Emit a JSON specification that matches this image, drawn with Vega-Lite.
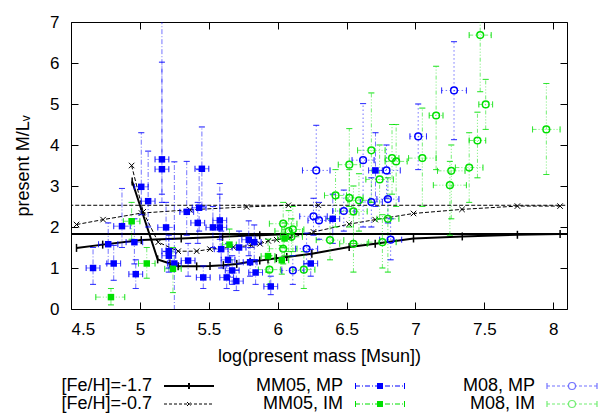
{
 "$schema": "https://vega.github.io/schema/vega-lite/v6.json",
 "width": 496,
 "height": 287,
 "autosize": {"type": "none"},
 "padding": {"left": 71, "top": 22, "right": 31, "bottom": 110},
 "background": "white",
 "config": {
  "view": {"stroke": "black", "strokeWidth": 1},
  "font": "Liberation Sans",
  "axis": {"grid": false, "domain": false, "tickColor": "black", "tickSize": -7, "tickWidth": 1,
   "labelFont": "Liberation Sans", "labelFontSize": 17, "labelColor": "black",
   "titleFont": "Liberation Sans", "titleFontSize": 18, "titleFontWeight": "normal", "titleColor": "black"}
 },
 "datasets": {
  "models": [
   {"series": "[Fe/H]=-1.7", "curve": "A", "x": 4.4, "y": 1.83},
   {"series": "[Fe/H]=-1.7", "curve": "A", "x": 8.2, "y": 1.83},
   {"series": "[Fe/H]=-1.7", "curve": "B", "x": 4.54, "y": 1.49},
   {"series": "[Fe/H]=-1.7", "curve": "B", "x": 4.73, "y": 1.57},
   {"series": "[Fe/H]=-1.7", "curve": "B", "x": 5.01, "y": 1.68},
   {"series": "[Fe/H]=-1.7", "curve": "B", "x": 5.3, "y": 1.72},
   {"series": "[Fe/H]=-1.7", "curve": "B", "x": 5.6, "y": 1.76},
   {"series": "[Fe/H]=-1.7", "curve": "B", "x": 5.87, "y": 1.8},
   {"series": "[Fe/H]=-1.7", "curve": "B", "x": 6.1, "y": 1.83},
   {"series": "[Fe/H]=-1.7", "curve": "C", "x": 4.944, "y": 3.11},
   {"series": "[Fe/H]=-1.7", "curve": "C", "x": 5.129, "y": 1.21},
   {"series": "[Fe/H]=-1.7", "curve": "C", "x": 5.218, "y": 1.11},
   {"series": "[Fe/H]=-1.7", "curve": "C", "x": 5.278, "y": 1.04},
   {"series": "[Fe/H]=-1.7", "curve": "C", "x": 5.412, "y": 1.04},
   {"series": "[Fe/H]=-1.7", "curve": "C", "x": 5.509, "y": 1.05},
   {"series": "[Fe/H]=-1.7", "curve": "C", "x": 5.606, "y": 1.07},
   {"series": "[Fe/H]=-1.7", "curve": "C", "x": 5.703, "y": 1.1},
   {"series": "[Fe/H]=-1.7", "curve": "C", "x": 5.8, "y": 1.15},
   {"series": "[Fe/H]=-1.7", "curve": "C", "x": 5.87, "y": 1.18},
   {"series": "[Fe/H]=-1.7", "curve": "C", "x": 5.93, "y": 1.21},
   {"series": "[Fe/H]=-1.7", "curve": "C", "x": 5.99, "y": 1.24},
   {"series": "[Fe/H]=-1.7", "curve": "C", "x": 6.066, "y": 1.27},
   {"series": "[Fe/H]=-1.7", "curve": "C", "x": 6.248, "y": 1.35},
   {"series": "[Fe/H]=-1.7", "curve": "C", "x": 6.519, "y": 1.51},
   {"series": "[Fe/H]=-1.7", "curve": "C", "x": 6.708, "y": 1.59},
   {"series": "[Fe/H]=-1.7", "curve": "C", "x": 6.986, "y": 1.72},
   {"series": "[Fe/H]=-1.7", "curve": "C", "x": 7.34, "y": 1.77},
   {"series": "[Fe/H]=-1.7", "curve": "C", "x": 7.74, "y": 1.81},
   {"series": "[Fe/H]=-1.7", "curve": "C", "x": 8.05, "y": 1.83},
   {"series": "[Fe/H]=-0.7", "curve": "A", "x": 4.4, "y": 2.53},
   {"series": "[Fe/H]=-0.7", "curve": "A", "x": 8.2, "y": 2.53},
   {"series": "[Fe/H]=-0.7", "curve": "B", "x": 4.54, "y": 2.06},
   {"series": "[Fe/H]=-0.7", "curve": "B", "x": 4.733, "y": 2.18},
   {"series": "[Fe/H]=-0.7", "curve": "B", "x": 5.012, "y": 2.34},
   {"series": "[Fe/H]=-0.7", "curve": "B", "x": 5.363, "y": 2.42},
   {"series": "[Fe/H]=-0.7", "curve": "B", "x": 5.775, "y": 2.49},
   {"series": "[Fe/H]=-0.7", "curve": "B", "x": 6.078, "y": 2.53},
   {"series": "[Fe/H]=-0.7", "curve": "B", "x": 6.296, "y": 2.53},
   {"series": "[Fe/H]=-0.7", "curve": "C", "x": 4.94, "y": 3.5},
   {"series": "[Fe/H]=-0.7", "curve": "C", "x": 5.024, "y": 2.37},
   {"series": "[Fe/H]=-0.7", "curve": "C", "x": 5.133, "y": 1.63},
   {"series": "[Fe/H]=-0.7", "curve": "C", "x": 5.278, "y": 1.41},
   {"series": "[Fe/H]=-0.7", "curve": "C", "x": 5.412, "y": 1.41},
   {"series": "[Fe/H]=-0.7", "curve": "C", "x": 5.509, "y": 1.46},
   {"series": "[Fe/H]=-0.7", "curve": "C", "x": 5.678, "y": 1.51},
   {"series": "[Fe/H]=-0.7", "curve": "C", "x": 5.812, "y": 1.55},
   {"series": "[Fe/H]=-0.7", "curve": "C", "x": 5.872, "y": 1.59},
   {"series": "[Fe/H]=-0.7", "curve": "C", "x": 5.932, "y": 1.66},
   {"series": "[Fe/H]=-0.7", "curve": "C", "x": 5.993, "y": 1.69},
   {"series": "[Fe/H]=-0.7", "curve": "C", "x": 6.09, "y": 1.74},
   {"series": "[Fe/H]=-0.7", "curve": "C", "x": 6.26, "y": 1.88},
   {"series": "[Fe/H]=-0.7", "curve": "C", "x": 6.519, "y": 2.07},
   {"series": "[Fe/H]=-0.7", "curve": "C", "x": 6.708, "y": 2.18},
   {"series": "[Fe/H]=-0.7", "curve": "C", "x": 6.986, "y": 2.33},
   {"series": "[Fe/H]=-0.7", "curve": "C", "x": 7.338, "y": 2.43},
   {"series": "[Fe/H]=-0.7", "curve": "C", "x": 7.74, "y": 2.51},
   {"series": "[Fe/H]=-0.7", "curve": "C", "x": 8.05, "y": 2.51}
  ],
  "obs": [
   {"series": "MM05, MP", "x": 5.16, "y": 3.65, "xlo": 5.11, "xhi": 5.21, "ylo": 2.8, "yhi": 7.5},
   {"series": "MM05, MP", "x": 5.16, "y": 3.41, "xlo": 5.11, "xhi": 5.21, "ylo": 2.6, "yhi": 6.02},
   {"series": "MM05, MP", "x": 5.45, "y": 3.42, "xlo": 5.4, "xhi": 5.5, "ylo": 2.5, "yhi": 4.44},
   {"series": "MM05, MP", "x": 5.01, "y": 2.98, "xlo": 4.96, "xhi": 5.06, "ylo": 2.3, "yhi": 4.3},
   {"series": "MM05, MP", "x": 5.06, "y": 2.63, "xlo": 5.01, "xhi": 5.11, "ylo": 2.0, "yhi": 3.85},
   {"series": "MM05, MP", "x": 5.34, "y": 2.37, "xlo": 5.29, "xhi": 5.39, "ylo": 1.8, "yhi": 3.6},
   {"series": "MM05, MP", "x": 5.43, "y": 2.47, "xlo": 5.38, "xhi": 5.48, "ylo": 1.9, "yhi": 3.4},
   {"series": "MM05, MP", "x": 5.42, "y": 2.1, "xlo": 5.37, "xhi": 5.47, "ylo": 1.6, "yhi": 2.6},
   {"series": "MM05, MP", "x": 4.87, "y": 2.02, "xlo": 4.81, "xhi": 4.93, "ylo": 1.5, "yhi": 2.94},
   {"series": "MM05, MP", "x": 5.19, "y": 1.99, "xlo": 5.13, "xhi": 5.25, "ylo": 1.4, "yhi": 2.6},
   {"series": "MM05, MP", "x": 5.58, "y": 2.16, "xlo": 5.53, "xhi": 5.63, "ylo": 1.7, "yhi": 2.8},
   {"series": "MM05, MP", "x": 5.53, "y": 1.99, "xlo": 5.48, "xhi": 5.58, "ylo": 1.5, "yhi": 2.5},
   {"series": "MM05, MP", "x": 5.58, "y": 1.99, "xlo": 5.53, "xhi": 5.63, "ylo": 1.4, "yhi": 3.06},
   {"series": "MM05, MP", "x": 4.77, "y": 1.58, "xlo": 4.7, "xhi": 4.84, "ylo": 1.1, "yhi": 2.1},
   {"series": "MM05, MP", "x": 4.96, "y": 1.63, "xlo": 4.9, "xhi": 5.02, "ylo": 1.1, "yhi": 2.2},
   {"series": "MM05, MP", "x": 5.21, "y": 1.41, "xlo": 5.16, "xhi": 5.26, "ylo": 1.0, "yhi": 1.8},
   {"series": "MM05, MP", "x": 5.21, "y": 1.3, "xlo": 5.16, "xhi": 5.26, "ylo": 0.9, "yhi": 1.7},
   {"series": "MM05, MP", "x": 5.59, "y": 1.46, "xlo": 5.54, "xhi": 5.64, "ylo": 1.0, "yhi": 1.9},
   {"series": "MM05, MP", "x": 5.72, "y": 1.5, "xlo": 5.67, "xhi": 5.77, "ylo": 1.1, "yhi": 1.9},
   {"series": "MM05, MP", "x": 5.79, "y": 1.69, "xlo": 5.74, "xhi": 5.84, "ylo": 1.3, "yhi": 2.15},
   {"series": "MM05, MP", "x": 5.83, "y": 1.63, "xlo": 5.78, "xhi": 5.88, "ylo": 1.2, "yhi": 2.05},
   {"series": "MM05, MP", "x": 4.66, "y": 1.0, "xlo": 4.61, "xhi": 4.71, "ylo": 0.6, "yhi": 1.5},
   {"series": "MM05, MP", "x": 4.81, "y": 1.11, "xlo": 4.76, "xhi": 4.86, "ylo": 0.7, "yhi": 1.55},
   {"series": "MM05, MP", "x": 4.97, "y": 0.85, "xlo": 4.92, "xhi": 5.02, "ylo": 0.5, "yhi": 1.2},
   {"series": "MM05, MP", "x": 5.25, "y": 1.11, "xlo": 5.2, "xhi": 5.3, "ylo": -1.0, "yhi": 3.59},
   {"series": "MM05, MP", "x": 5.35, "y": 1.18, "xlo": 5.3, "xhi": 5.4, "ylo": 0.8, "yhi": 1.6},
   {"series": "MM05, MP", "x": 5.46, "y": 0.77, "xlo": 5.41, "xhi": 5.51, "ylo": 0.5, "yhi": 1.05},
   {"series": "MM05, MP", "x": 5.64, "y": 1.2, "xlo": 5.59, "xhi": 5.69, "ylo": 0.8, "yhi": 1.6},
   {"series": "MM05, MP", "x": 5.67, "y": 0.94, "xlo": 5.62, "xhi": 5.72, "ylo": 0.6, "yhi": 1.3},
   {"series": "MM05, MP", "x": 5.63, "y": 0.77, "xlo": 5.58, "xhi": 5.68, "ylo": 0.5, "yhi": 1.05},
   {"series": "MM05, MP", "x": 5.7, "y": 0.68, "xlo": 5.65, "xhi": 5.75, "ylo": 0.45, "yhi": 0.95},
   {"series": "MM05, MP", "x": 5.8, "y": 1.14, "xlo": 5.75, "xhi": 5.85, "ylo": 0.8, "yhi": 1.5},
   {"series": "MM05, MP", "x": 5.84, "y": 0.89, "xlo": 5.79, "xhi": 5.89, "ylo": 0.6, "yhi": 1.2},
   {"series": "MM05, MP", "x": 5.95, "y": 0.55, "xlo": 5.9, "xhi": 6.0, "ylo": 0.35, "yhi": 0.8},
   {"series": "MM05, MP", "x": 6.24, "y": 1.11, "xlo": 6.19, "xhi": 6.29, "ylo": 0.8, "yhi": 1.45},
   {"series": "MM05, MP", "x": 6.4, "y": 2.2, "xlo": 6.35, "xhi": 6.45, "ylo": 1.6, "yhi": 2.8},
   {"series": "MM05, MP", "x": 6.71, "y": 3.38, "xlo": 6.66, "xhi": 6.76, "ylo": 2.5, "yhi": 4.3},
   {"series": "MM05, IM", "x": 4.94, "y": 2.14, "xlo": 4.88, "xhi": 5.0, "ylo": 1.7, "yhi": 2.6},
   {"series": "MM05, IM", "x": 5.05, "y": 1.11, "xlo": 4.99, "xhi": 5.11, "ylo": 0.75, "yhi": 1.5},
   {"series": "MM05, IM", "x": 5.24, "y": 0.98, "xlo": 5.18, "xhi": 5.3, "ylo": 0.4, "yhi": 1.5},
   {"series": "MM05, IM", "x": 4.79, "y": 0.29, "xlo": 4.68, "xhi": 4.89, "ylo": 0.1, "yhi": 0.5},
   {"series": "MM05, IM", "x": 5.65, "y": 1.57, "xlo": 5.6, "xhi": 5.7, "ylo": 1.2, "yhi": 1.95},
   {"series": "MM05, IM", "x": 5.93, "y": 1.29, "xlo": 5.88, "xhi": 5.98, "ylo": 0.9, "yhi": 1.7},
   {"series": "MM05, IM", "x": 6.03, "y": 1.19, "xlo": 5.98, "xhi": 6.08, "ylo": 0.85, "yhi": 1.55},
   {"series": "MM05, IM", "x": 6.05, "y": 1.72, "xlo": 6.0, "xhi": 6.1, "ylo": 1.3, "yhi": 2.1},
   {"series": "M08, MP", "x": 6.28, "y": 3.38, "xlo": 6.18, "xhi": 6.38, "ylo": 2.2, "yhi": 4.48},
   {"series": "M08, MP", "x": 6.62, "y": 3.63, "xlo": 6.54, "xhi": 6.7, "ylo": 2.0, "yhi": 5.01},
   {"series": "M08, MP", "x": 6.79, "y": 3.38, "xlo": 6.69, "xhi": 6.89, "ylo": 2.7, "yhi": 4.0},
   {"series": "M08, MP", "x": 6.68, "y": 2.61, "xlo": 6.6, "xhi": 6.76, "ylo": 2.0, "yhi": 3.2},
   {"series": "M08, MP", "x": 6.8, "y": 2.68, "xlo": 6.72, "xhi": 6.88, "ylo": 2.1, "yhi": 3.3},
   {"series": "M08, MP", "x": 6.48, "y": 2.39, "xlo": 6.4, "xhi": 6.56, "ylo": 1.9, "yhi": 2.9},
   {"series": "M08, MP", "x": 6.26, "y": 2.26, "xlo": 6.16, "xhi": 6.36, "ylo": 1.8, "yhi": 2.7},
   {"series": "M08, MP", "x": 6.3, "y": 2.16, "xlo": 6.22, "xhi": 6.38, "ylo": 1.7, "yhi": 2.6},
   {"series": "M08, MP", "x": 6.21, "y": 1.47, "xlo": 6.13, "xhi": 6.29, "ylo": 1.1, "yhi": 1.85},
   {"series": "M08, MP", "x": 6.11, "y": 0.94, "xlo": 6.03, "xhi": 6.19, "ylo": 0.6, "yhi": 1.3},
   {"series": "M08, MP", "x": 6.82, "y": 1.69, "xlo": 6.74, "xhi": 6.9, "ylo": 1.2, "yhi": 2.2},
   {"series": "M08, MP", "x": 7.02, "y": 4.21, "xlo": 6.96, "xhi": 7.08, "ylo": 3.4, "yhi": 5.0},
   {"series": "M08, MP", "x": 7.28, "y": 5.33, "xlo": 7.19, "xhi": 7.37, "ylo": 4.13, "yhi": 6.52},
   {"series": "M08, IM", "x": 7.15, "y": 4.72, "xlo": 7.1, "xhi": 7.2, "ylo": 3.4, "yhi": 5.92},
   {"series": "M08, IM", "x": 6.68, "y": 3.87, "xlo": 6.58, "xhi": 6.78, "ylo": 2.6, "yhi": 5.27},
   {"series": "M08, IM", "x": 7.05, "y": 3.68, "xlo": 6.95, "xhi": 7.15, "ylo": 2.5, "yhi": 4.9},
   {"series": "M08, IM", "x": 6.83, "y": 3.68, "xlo": 6.78, "xhi": 6.88, "ylo": 2.8, "yhi": 4.5},
   {"series": "M08, IM", "x": 7.47, "y": 6.68, "xlo": 7.39, "xhi": 7.55, "ylo": 5.3, "yhi": 7.1},
   {"series": "M08, IM", "x": 7.51, "y": 4.99, "xlo": 7.46, "xhi": 7.56, "ylo": 4.38, "yhi": 5.6},
   {"series": "M08, IM", "x": 7.95, "y": 4.38, "xlo": 7.85, "xhi": 8.05, "ylo": 3.28, "yhi": 5.5},
   {"series": "M08, IM", "x": 7.45, "y": 4.11, "xlo": 7.39, "xhi": 7.51, "ylo": 3.2, "yhi": 4.8},
   {"series": "M08, IM", "x": 7.26, "y": 3.37, "xlo": 7.16, "xhi": 7.36, "ylo": 2.2, "yhi": 4.0},
   {"series": "M08, IM", "x": 7.39, "y": 3.45, "xlo": 7.29, "xhi": 7.49, "ylo": 2.6, "yhi": 4.3},
   {"series": "M08, IM", "x": 7.25, "y": 3.02, "xlo": 7.13, "xhi": 7.37, "ylo": 1.8, "yhi": 3.6},
   {"series": "M08, IM", "x": 6.52, "y": 3.52, "xlo": 6.44, "xhi": 6.6, "ylo": 2.5, "yhi": 4.4},
   {"series": "M08, IM", "x": 6.86, "y": 3.6, "xlo": 6.78, "xhi": 6.94, "ylo": 2.5, "yhi": 4.5},
   {"series": "M08, IM", "x": 6.74, "y": 3.16, "xlo": 6.64, "xhi": 6.84, "ylo": 2.2, "yhi": 4.0},
   {"series": "M08, IM", "x": 6.42, "y": 2.77, "xlo": 6.34, "xhi": 6.5, "ylo": 2.0, "yhi": 3.4},
   {"series": "M08, IM", "x": 6.52, "y": 2.71, "xlo": 6.42, "xhi": 6.62, "ylo": 2.0, "yhi": 3.4},
   {"series": "M08, IM", "x": 6.59, "y": 2.65, "xlo": 6.51, "xhi": 6.67, "ylo": 1.9, "yhi": 3.3},
   {"series": "M08, IM", "x": 6.55, "y": 2.38, "xlo": 6.45, "xhi": 6.65, "ylo": 1.6, "yhi": 3.0},
   {"series": "M08, IM", "x": 6.8, "y": 2.2, "xlo": 6.72, "xhi": 6.88, "ylo": 0.9, "yhi": 3.2},
   {"series": "M08, IM", "x": 6.04, "y": 2.08, "xlo": 5.94, "xhi": 6.14, "ylo": 1.5, "yhi": 2.6},
   {"series": "M08, IM", "x": 6.08, "y": 1.9, "xlo": 5.98, "xhi": 6.18, "ylo": 1.4, "yhi": 2.4},
   {"series": "M08, IM", "x": 6.11, "y": 1.94, "xlo": 6.03, "xhi": 6.19, "ylo": 1.4, "yhi": 2.5},
   {"series": "M08, IM", "x": 6.04, "y": 1.47, "xlo": 5.94, "xhi": 6.14, "ylo": 1.1, "yhi": 1.85},
   {"series": "M08, IM", "x": 6.38, "y": 1.68, "xlo": 6.28, "xhi": 6.48, "ylo": 1.2, "yhi": 2.2},
   {"series": "M08, IM", "x": 6.55, "y": 1.59, "xlo": 6.45, "xhi": 6.65, "ylo": 0.9, "yhi": 2.3},
   {"series": "M08, IM", "x": 6.76, "y": 1.63, "xlo": 6.66, "xhi": 6.86, "ylo": 1.0, "yhi": 2.3},
   {"series": "M08, IM", "x": 5.94, "y": 0.96, "xlo": 5.86, "xhi": 6.02, "ylo": 0.6, "yhi": 1.3},
   {"series": "M08, IM", "x": 6.19, "y": 0.96, "xlo": 6.11, "xhi": 6.27, "ylo": 0.5, "yhi": 1.4},
   {"series": "M08, IM", "x": 6.1, "y": 1.76, "xlo": 6.02, "xhi": 6.18, "ylo": 1.3, "yhi": 2.2}
  ]
 },
 "resolve": {"axis": {"x": "independent", "y": "independent"}},
 "layer": [
  {
   "data": {"name": "models"},
   "mark": {"type": "point", "opacity": 0},
   "encoding": {
    "x": {"field": "x", "type": "quantitative", "scale": {"domain": [4.5, 8.1], "nice": false, "zero": false},
     "axis": {"orient": "top", "labels": false, "title": null, "values": [4.5, 5, 5.5, 6, 6.5, 7, 7.5, 8]}},
    "y": {"field": "y", "type": "quantitative", "scale": {"domain": [0, 7], "nice": false, "zero": false},
     "axis": {"orient": "right", "labels": false, "title": null, "values": [0, 1, 2, 3, 4, 5, 6, 7]}}
   }
  },
  {
   "layer": [
    {
     "data": {"name": "models"},
     "transform": [{"filter": "datum.series === '[Fe/H]=-1.7'"}],
     "mark": {"type": "line", "strokeWidth": 2, "clip": true},
     "encoding": {
      "x": {"field": "x", "type": "quantitative", "scale": {"domain": [4.5, 8.1], "nice": false, "zero": false},
       "axis": {"orient": "bottom", "title": "log(present mass [Msun])", "values": [4.5, 5, 5.5, 6, 6.5, 7, 7.5, 8], "format": "~g", "labelPadding": 19, "titlePadding": 10}},
      "y": {"field": "y", "type": "quantitative", "scale": {"domain": [0, 7], "nice": false, "zero": false},
       "axis": {"orient": "left", "title": "present M/L\u1d65", "values": [0, 1, 2, 3, 4, 5, 6, 7], "format": "d", "labelPadding": 19, "titlePadding": 17}},
      "detail": {"field": "curve"},
      "color": {"field": "series", "type": "nominal",
       "scale": {"domain": ["[Fe/H]=-1.7", "[Fe/H]=-0.7"], "range": ["#000000", "#000000"]},
       "legend": {"title": null, "orient": "none", "legendX": 84, "legendY": 355, "direction": "vertical", "columns": 1,
        "rowPadding": 0, "symbolSize": 100, "symbolOffset": 25, "labelAlign": "right", "labelOffset": -46,
        "labelFont": "Liberation Sans", "labelFontSize": 18, "labelColor": "black", "labelLimit": 0,
        "encode": {"symbols": {"update": {
         "shape": {"signal": "datum.value === '[Fe/H]=-1.7' ? 'M-5,0H5M0,-0.6V0.6' : 'M-5,0H5M-0.4,-0.4L0.4,0.4M-0.4,0.4L0.4,-0.4'"},
         "fill": {"value": "transparent"},
         "stroke": {"value": "black"},
         "strokeWidth": {"signal": "datum.value === '[Fe/H]=-1.7' ? 2 : 1"},
         "strokeDash": {"signal": "datum.value === '[Fe/H]=-0.7' ? [3, 2] : [10, 0]"},
         "opacity": {"value": 1}
        }}}}
      }
     }
    },
    {
     "data": {"name": "models"},
     "transform": [{"filter": "datum.series === '[Fe/H]=-1.7'"}],
     "mark": {"type": "point", "shape": "M0,-1V1", "size": 64, "filled": false, "strokeWidth": 1.5, "opacity": 1, "clip": true},
     "encoding": {
      "x": {"field": "x", "type": "quantitative", "scale": {"domain": [4.5, 8.1], "nice": false, "zero": false}},
      "y": {"field": "y", "type": "quantitative", "scale": {"domain": [0, 7], "nice": false, "zero": false}},
      "color": {"field": "series", "type": "nominal"}
     }
    },
    {
     "data": {"name": "models"},
     "transform": [{"filter": "datum.series === '[Fe/H]=-0.7'"}],
     "mark": {"type": "line", "strokeWidth": 1, "strokeDash": [4, 2], "clip": true},
     "encoding": {
      "x": {"field": "x", "type": "quantitative", "scale": {"domain": [4.5, 8.1], "nice": false, "zero": false}},
      "y": {"field": "y", "type": "quantitative", "scale": {"domain": [0, 7], "nice": false, "zero": false}},
      "detail": {"field": "curve"},
      "color": {"field": "series", "type": "nominal"}
     }
    },
    {
     "data": {"name": "models"},
     "transform": [{"filter": "datum.series === '[Fe/H]=-0.7'"}],
     "mark": {"type": "point", "shape": "M-1,-1L1,1M-1,1L1,-1", "size": 30, "filled": false, "strokeWidth": 1, "opacity": 1, "clip": true},
     "encoding": {
      "x": {"field": "x", "type": "quantitative", "scale": {"domain": [4.5, 8.1], "nice": false, "zero": false}},
      "y": {"field": "y", "type": "quantitative", "scale": {"domain": [0, 7], "nice": false, "zero": false}},
      "color": {"field": "series", "type": "nominal"}
     }
    },
    {
     "data": {"name": "obs"},
     "mark": {"type": "rule", "strokeWidth": 1, "opacity": 0.55, "clip": true},
     "encoding": {
      "x": {"field": "x", "type": "quantitative", "scale": {"domain": [4.5, 8.1], "nice": false, "zero": false}},
      "y": {"field": "ylo", "type": "quantitative", "scale": {"domain": [0, 7], "nice": false, "zero": false}},
      "y2": {"field": "yhi"},
      "stroke": {"field": "series", "type": "nominal",
       "scale": {"domain": ["M08, MP", "M08, IM", "MM05, MP", "MM05, IM"], "range": ["#0000ff", "#00e000", "#0000ff", "#00e000"]}},
      "strokeDash": {"field": "series", "type": "nominal", "legend": null,
       "scale": {"domain": ["MM05, MP", "MM05, IM", "M08, MP", "M08, IM"], "range": [[5, 2, 1, 2], [5, 2, 1, 2, 1, 2], [1.5, 2.5], [4, 2, 1, 2, 1, 2, 1, 2]]}}
     }
    },
    {
     "data": {"name": "obs"},
     "mark": {"type": "rule", "strokeWidth": 1, "opacity": 0.55, "clip": true},
     "encoding": {
      "x": {"field": "xlo", "type": "quantitative", "scale": {"domain": [4.5, 8.1], "nice": false, "zero": false}},
      "x2": {"field": "xhi"},
      "y": {"field": "y", "type": "quantitative", "scale": {"domain": [0, 7], "nice": false, "zero": false}},
      "stroke": {"field": "series", "type": "nominal"},
      "strokeDash": {"field": "series", "type": "nominal", "legend": null}
     }
    },
    {
     "data": {"name": "obs"},
     "mark": {"type": "tick", "orient": "horizontal", "size": 6, "thickness": 0.01, "filled": false, "strokeWidth": 1, "opacity": 0.55, "clip": true},
     "encoding": {
      "x": {"field": "x", "type": "quantitative", "scale": {"domain": [4.5, 8.1], "nice": false, "zero": false}},
      "y": {"field": "ylo", "type": "quantitative", "scale": {"domain": [0, 7], "nice": false, "zero": false}},
      "stroke": {"field": "series", "type": "nominal"}
     }
    },
    {
     "data": {"name": "obs"},
     "mark": {"type": "tick", "orient": "horizontal", "size": 6, "thickness": 0.01, "filled": false, "strokeWidth": 1, "opacity": 0.55, "clip": true},
     "encoding": {
      "x": {"field": "x", "type": "quantitative", "scale": {"domain": [4.5, 8.1], "nice": false, "zero": false}},
      "y": {"field": "yhi", "type": "quantitative", "scale": {"domain": [0, 7], "nice": false, "zero": false}},
      "stroke": {"field": "series", "type": "nominal"}
     }
    },
    {
     "data": {"name": "obs"},
     "mark": {"type": "tick", "orient": "vertical", "size": 6, "thickness": 0.01, "filled": false, "strokeWidth": 1, "opacity": 0.55, "clip": true},
     "encoding": {
      "x": {"field": "xlo", "type": "quantitative", "scale": {"domain": [4.5, 8.1], "nice": false, "zero": false}},
      "y": {"field": "y", "type": "quantitative", "scale": {"domain": [0, 7], "nice": false, "zero": false}},
      "stroke": {"field": "series", "type": "nominal"}
     }
    },
    {
     "data": {"name": "obs"},
     "mark": {"type": "tick", "orient": "vertical", "size": 6, "thickness": 0.01, "filled": false, "strokeWidth": 1, "opacity": 0.55, "clip": true},
     "encoding": {
      "x": {"field": "xhi", "type": "quantitative", "scale": {"domain": [4.5, 8.1], "nice": false, "zero": false}},
      "y": {"field": "y", "type": "quantitative", "scale": {"domain": [0, 7], "nice": false, "zero": false}},
      "stroke": {"field": "series", "type": "nominal"}
     }
    },
    {
     "data": {"name": "obs"},
     "transform": [{"filter": "indexof(datum.series, 'MM05') === 0"}],
     "mark": {"type": "point", "shape": "square", "size": 42, "filled": true, "opacity": 1, "clip": true},
     "encoding": {
      "x": {"field": "x", "type": "quantitative", "scale": {"domain": [4.5, 8.1], "nice": false, "zero": false}},
      "y": {"field": "y", "type": "quantitative", "scale": {"domain": [0, 7], "nice": false, "zero": false}},
      "fill": {"field": "series", "type": "nominal",
       "scale": {"domain": ["MM05, MP", "MM05, IM"], "range": ["#0000ff", "#00e000"]},
       "legend": {"title": null, "orient": "none", "legendX": 275, "legendY": 355, "direction": "vertical", "columns": 1,
        "rowPadding": 0, "symbolSize": 100, "symbolOffset": 25, "labelAlign": "right", "labelOffset": -46,
        "labelFont": "Liberation Sans", "labelFontSize": 18, "labelColor": "black", "labelLimit": 0,
        "symbolType": "M-5,-0.1H-4V0.1H-5Z M-3.6,-0.1H-3.4V0.1H-3.6Z M-3,-0.1H-2V0.1H-3Z M-1.6,-0.1H-1.4V0.1H-1.6Z M-1,-0.1H0V0.1H-1Z M0.4,-0.1H0.6V0.1H0.4Z M1,-0.1H2V0.1H1Z M2.4,-0.1H2.6V0.1H2.4Z M3,-0.1H4V0.1H3Z M4.4,-0.1H4.6V0.1H4.4Z M-5,-0.6H-4.8V0.6H-5Z M4.8,-0.6H5V0.6H4.8Z M-0.6,-0.6H0.6V0.6H-0.6Z",
        "symbolStrokeWidth": 0, "symbolOpacity": 1}
      }
     }
    },
    {
     "data": {"name": "obs"},
     "transform": [{"filter": "indexof(datum.series, 'M08') === 0"}],
     "mark": {"type": "point", "shape": "circle", "size": 45, "filled": false, "strokeWidth": 1.5, "opacity": 1, "clip": true},
     "encoding": {
      "x": {"field": "x", "type": "quantitative", "scale": {"domain": [4.5, 8.1], "nice": false, "zero": false}},
      "y": {"field": "y", "type": "quantitative", "scale": {"domain": [0, 7], "nice": false, "zero": false}},
      "stroke": {"field": "series", "type": "nominal",
       "legend": {"title": null, "orient": "none", "legendX": 467, "legendY": 355, "direction": "vertical", "columns": 1,
        "values": ["M08, MP", "M08, IM"],
        "rowPadding": 0, "symbolSize": 100, "symbolOffset": 25, "labelAlign": "right", "labelOffset": -46,
        "labelFont": "Liberation Sans", "labelFontSize": 18, "labelColor": "black", "labelLimit": 0,
        "symbolType": "M-5,0H-4.4M-4,0H-3.4M-3,0H-2.4M-2,0H-1.4M-1,0H-0.7M0.7,0H1M1.4,0H2M2.4,0H3M3.4,0H4M4.4,0H5M-5,-0.6V0.6M5,-0.6V0.6M0.7,0A0.7,0.7 0 1,1 -0.7,0A0.7,0.7 0 1,1 0.7,0",
        "symbolFillColor": "transparent", "symbolStrokeWidth": 1.2, "symbolOpacity": 1}
      }
     }
    }
   ]
  }
 ]
}
